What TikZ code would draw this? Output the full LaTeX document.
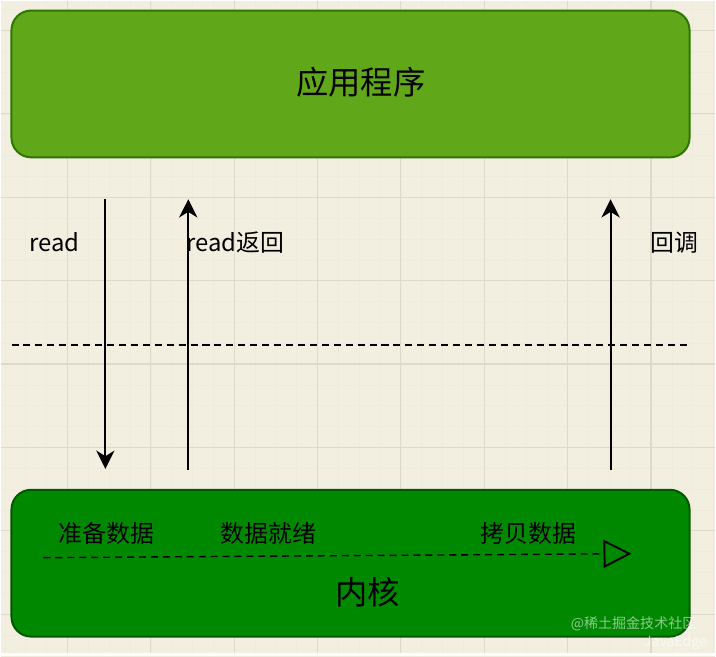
\documentclass[tikz,border=0pt]{standalone}
\usepackage{fontspec}
\setmainfont{Noto Sans CJK SC}
\usetikzlibrary{arrows.meta}
\definecolor{paper}{RGB}{243,239,224}
\definecolor{gridmaj}{RGB}{221,218,201}
\definecolor{gridmin}{RGB}{239,235,220}
\definecolor{appfill}{RGB}{96,168,25}
\definecolor{appedge}{RGB}{45,118,0}
\definecolor{kerfill}{RGB}{0,137,0}
\definecolor{keredge}{RGB}{0,88,0}
\newcommand{\IOcall}[2]{\draw[line width=1.5pt,-{Stealth[length=13pt,width=13pt,inset=4pt]}] (#1) -- (#2);}
\tikzset{
  layer/.style={rounded corners=14pt,line width=1.4pt,minimum width=16.975cm,minimum height=3.675cm},
  big/.style={font=\fontsize{23}{26}\selectfont},
  small/.style={font=\fontsize{17}{20}\selectfont},
}

\begin{document}
\begin{tikzpicture}[x=0.025cm,y=-0.025cm]
  \fill[paper] (0,0) rectangle (716,653);
  \foreach\i in{0,...,34}{\draw[gridmin,line width=0.5pt] ({4.4+20.875*\i},0)--++(0,653);}
  \foreach\i in{0,...,31}{\draw[gridmin,line width=0.5pt] (0,{9.2+20.875*\i})--++(716,0);}
  \foreach\i in{0,...,7}{\draw[gridmaj,line width=0.8pt] ({67+83.5*\i},0)--++(0,653);}
  \foreach\i in{0,...,7}{\draw[gridmaj,line width=0.8pt] (0,{30+83.5*\i})--++(716,0);}
  \node[layer,fill=appfill,draw=appedge] (app) at (350.5,83.5) {};
  \node[layer,fill=kerfill,draw=keredge] (kernel) at (350.5,563.5) {};
  \node[big] (appname) at (361,82) {应用程序};
  \node[big] (kername) at (368,593) {内核};
  % user / kernel boundary
  \coordinate (bl) at (11,345); \coordinate (br) at (690,345);
  \draw[line width=1pt,dash pattern=on 5pt off 3.5pt] (bl)--(br);
  % calls
  \coordinate (r1) at (105,199); \coordinate (r2) at (105,469);
  \coordinate (b1) at (188,470); \coordinate (b2) at (188,199);
  \coordinate (c1) at (611,470); \coordinate (c2) at (611,199);
  \IOcall{r1}{r2}\IOcall{b1}{b2}\IOcall{c1}{c2}
  \node[small] (lread) at (54,242) {read};
  \node[small,anchor=west,inner sep=0pt] (lback) at (186,242) {read返回};
  \node[small] (lcb) at (675,242) {回调};
  % kernel steps
  \node[small] (s1) at (106,534) {准备数据};
  \node[small] (s2) at (268,534) {数据就绪};
  \node[small] (s3) at (529,534) {拷贝数据};
  \coordinate (t1) at (43,558); \coordinate (t2) at (632,554);
  \draw[line width=1pt,dash pattern=on 5pt off 3.5pt,
    -{Triangle[open,length=20pt,width=20pt,line width=1.4pt]}] (t1)--(t2);
  \node[white,opacity=0.55,font=\fontsize{10}{12}\selectfont,inner sep=0pt] (wm1) at (634,624) {@稀土掘金技术社区};
  \node[white,opacity=0.6,font=\fontsize{10}{12}\selectfont,inner sep=0pt] (wm2) at (676,643) {JavaEdge};
\end{tikzpicture}
\end{document}
